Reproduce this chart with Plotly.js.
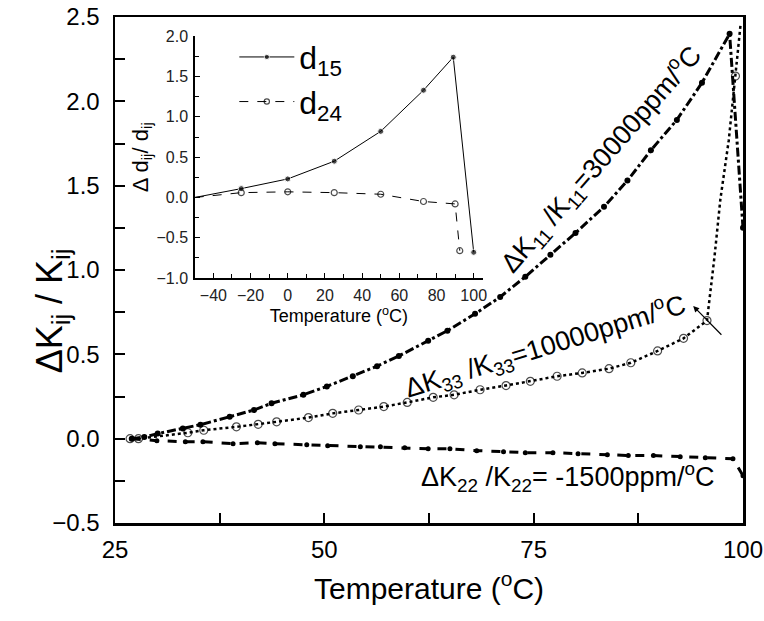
<!DOCTYPE html>
<html>
<head>
<meta charset="utf-8">
<script src="https://cdn.plot.ly/plotly-3.0.1.min.js"></script>
<style>html,body{margin:0;padding:0;background:#fff;}#chart{width:764px;height:621px;}</style>
</head>
<body>
<div id="chart"></div>
<script>
// ---- Main chart data ----
var k11T = [27, 28.5, 30.1, 33.1, 35.2, 38.7, 41.6, 43.7, 47.5, 50.3, 53.4, 56.3, 58.9, 62.4, 64.7, 68, 71, 74, 77, 80, 83.4, 86.2, 89.0, 92.1, 95.1, 98.4, 100];
var k11V = [0, 0.01, 0.03, 0.06, 0.083, 0.13, 0.17, 0.21, 0.26, 0.31, 0.37, 0.43, 0.49, 0.58, 0.64, 0.74, 0.84, 0.96, 1.09, 1.22, 1.375, 1.53, 1.71, 1.89, 2.11, 2.40, 1.25];

var k33T = [26.8, 27.8, 33.7, 35.6, 39.5, 42.1, 44.3, 48.1, 51, 54.1, 57.1, 59.9, 63, 65.5, 68.6, 71.7, 74.6, 77.8, 80.8, 84, 86.6, 89.8, 92.9, 95.7, 96.6, 97.3, 98.3, 99.1, 99.7];
var k33V = [0, 0, 0.035, 0.05, 0.07, 0.085, 0.1, 0.125, 0.15, 0.17, 0.19, 0.215, 0.245, 0.26, 0.29, 0.315, 0.34, 0.37, 0.39, 0.415, 0.45, 0.52, 0.595, 0.70, 1.08, 1.42, 1.77, 2.15, 2.45];
var k33Marked = [1,1,1,1,1,1,1,1,1,1,1,1,1,1,1,1,1,1,1,1,1,1,1,1,0,0,0,1,0];

var k22T = [27, 30.0, 33.4, 35.5, 39.1, 42.0, 44.1, 47.9, 50.4, 54.3, 56.7, 59.6, 62.4, 65.0, 68.2, 71.4, 74.0, 77.3, 80.3, 83.8, 86.3, 89.3, 92.5, 95.5, 98.8, 100];
var k22V = [0, -0.012, -0.018, -0.018, -0.03, -0.024, -0.03, -0.036, -0.042, -0.048, -0.048, -0.054, -0.06, -0.06, -0.071, -0.077, -0.083, -0.083, -0.089, -0.095, -0.10, -0.10, -0.107, -0.113, -0.119, -0.22];

var mainXTicks = [25, 50, 75, 100];

// ---- Inset data ----
var insetT15 = [-50, -25, 0, 25, 50, 73, 89, 100];
var d15 = [0.0, 0.11, 0.23, 0.45, 0.82, 1.33, 1.74, -0.68];
var d15Marked = [0, 1, 1, 1, 1, 1, 1, 1];
var insetT24 = [-50, -25, 0, 25, 50, 73, 90, 92.5];
var d24 = [0.0, 0.06, 0.07, 0.06, 0.04, -0.05, -0.08, -0.66];
var d24Marked = [0, 1, 1, 1, 1, 1, 1, 1];
var insetXTicks = [-40, -20, 0, 20, 40, 60, 80, 100];

var FONT = 'Arial, "Liberation Sans", sans-serif';

function sizes(flags, s) { return flags.map(function (f) { return f ? s : 0; }); }

var traces = [
  {x: k11T, y: k11V, mode: 'lines+markers', showlegend: false, name: 'K11',
   line: {color: '#000', width: 3, dash: 'dashdot'},
   marker: {symbol: 'circle', size: 6, color: '#000'}},
  {x: k33T, y: k33V, mode: 'lines+markers', showlegend: false, name: 'K33',
   line: {color: '#000', width: 2.5, dash: 'dot'},
   marker: {symbol: 'circle-open', size: sizes(k33Marked, 8), color: '#000', line: {width: 1.2, color: '#000'}}},
  {x: k22T, y: k22V, mode: 'lines+markers', showlegend: false, name: 'K22',
   line: {color: '#000', width: 3, dash: 'dash'},
   marker: {symbol: 'circle', size: 5, color: '#000'}},
  {x: insetT15, y: d15, xaxis: 'x2', yaxis: 'y2', mode: 'lines+markers', name: 'd<sub>15</sub>',
   line: {color: '#000', width: 1},
   marker: {symbol: 'circle', size: sizes(d15Marked, 6), color: '#000'}},
  {x: insetT24, y: d24, xaxis: 'x2', yaxis: 'y2', mode: 'lines+markers', name: 'd<sub>24</sub>',
   line: {color: '#000', width: 1, dash: 'dash'},
   marker: {symbol: 'circle-open', size: sizes(d24Marked, 6), color: '#000', line: {width: 1.2, color: '#000'}}}
];

var annFont = {family: FONT, size: 27, color: '#000'};

var layout = {
  width: 764, height: 621,
  margin: {l: 115, r: 21, t: 17, b: 98},
  paper_bgcolor: '#fff', plot_bgcolor: '#fff',
  font: {family: FONT, color: '#000'},
  showlegend: true,
  legend: {x: 0.19, y: 0.975, xanchor: 'left', yanchor: 'top', bgcolor: 'rgba(0,0,0,0)',
           itemwidth: 55, font: {family: FONT, size: 32, color: '#000'}, tracegroupgap: 0},
  xaxis: {range: [25, 100], tickvals: mainXTicks, ticktext: mainXTicks.map(String),
          ticks: 'inside', ticklen: 10, tickwidth: 2, tickcolor: '#000',
          minor: {dtick: 12.5, tick0: 25, ticks: 'inside', ticklen: 10, tickwidth: 2, tickcolor: '#000'},
          showline: true, linewidth: 2.5, linecolor: '#000', mirror: true,
          showgrid: false, zeroline: false, ticklabelstandoff: 4,
          tickfont: {family: FONT, size: 24, color: '#000'},
          title: {text: 'Temperature (<sup>o</sup>C)', font: {family: FONT, size: 30, color: '#000'}, standoff: 16}},
  yaxis: {range: [-0.5, 2.5], dtick: 0.5, tick0: 0, tickformat: '.1f',
          ticks: 'inside', ticklen: 10, tickwidth: 2, tickcolor: '#000',
          minor: {dtick: 0.25, ticks: 'inside', ticklen: 10, tickwidth: 2, tickcolor: '#000'},
          showline: true, linewidth: 2.5, linecolor: '#000', mirror: true,
          showgrid: false, zeroline: false, ticklabelstandoff: 8,
          tickfont: {family: FONT, size: 24, color: '#000'}},
  xaxis2: {domain: [0.127, 0.586], anchor: 'y2', range: [-50, 105],
           tickvals: insetXTicks, ticks: 'inside', ticklen: 5, tickcolor: '#000', tickwidth: 1,
           minor: {dtick: 10, tick0: -50, ticks: 'inside', ticklen: 4, tickcolor: '#000'},
           showline: true, linewidth: 1.5, linecolor: '#000', showgrid: false, zeroline: false,
           tickfont: {family: FONT, size: 16, color: '#222'}, ticklabelstandoff: 2,
           title: {text: 'Temperature (<sup>o</sup>C)', font: {family: FONT, size: 18, color: '#000'}, standoff: 2}},
  yaxis2: {domain: [0.484, 0.962], anchor: 'x2', range: [-1, 2], dtick: 0.5, tick0: 0, tickformat: '.1f',
           ticks: 'inside', ticklen: 5, tickcolor: '#000', tickwidth: 1,
           minor: {dtick: 0.25, ticks: 'inside', ticklen: 4, tickcolor: '#000'},
           showline: true, linewidth: 1.5, linecolor: '#000', showgrid: false, zeroline: false,
           tickfont: {family: FONT, size: 16, color: '#222'}, ticklabelstandoff: 2,
           title: {text: '\u0394 d<sub>ij</sub>/ d<sub>ij</sub>', font: {family: FONT, size: 22, color: '#000'}, standoff: 2}},
  annotations: [
    {xref: 'paper', yref: 'paper', x: -0.139, y: 0.42, textangle: -90, showarrow: false,
     text: '\u0394K<sub>ij</sub> / K<sub>ij</sub>', font: {family: FONT, size: 36, color: '#000'}},
    {xref: 'x', yref: 'y', x: 83.0, y: 1.66, textangle: -49, showarrow: false,
     text: '\u0394K<sub>11</sub> /K<sub>11</sub>=30000ppm/<sup>o</sup>C', font: annFont},
    {xref: 'x', yref: 'y', x: 76.4, y: 0.55, textangle: -17, showarrow: false,
     text: '\u0394K<sub>33</sub> /K<sub>33</sub>=10000ppm/<sup>o</sup>C', font: annFont},
    {xref: 'x', yref: 'y', x: 79.0, y: -0.23, showarrow: false,
     text: '\u0394K<sub>22</sub> /K<sub>22</sub>= -1500ppm/<sup>o</sup>C', font: annFont},
    {xref: 'x', yref: 'y', x: 94.05, y: 0.786, axref: 'x', ayref: 'y', ax: 97.6, ay: 0.607,
     text: '', showarrow: true, arrowhead: 2, arrowsize: 1, arrowwidth: 1.2, arrowcolor: '#000'}
  ]
};

Plotly.newPlot('chart', traces, layout, {staticPlot: true, displayModeBar: false});
</script>
</body>
</html>
